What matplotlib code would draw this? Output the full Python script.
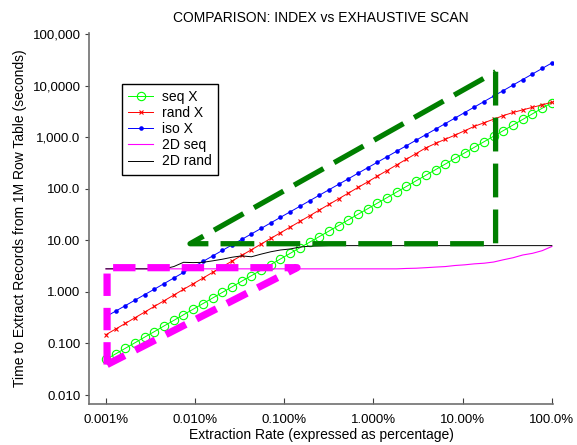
import matplotlib
matplotlib.use("Agg")
import matplotlib.pyplot as plt
from matplotlib.ticker import FixedLocator, FixedFormatter, NullLocator

plt.rcParams['font.family'] = ['Liberation Sans', 'DejaVu Sans']

# Extraction rate (percent of 1M rows)
extraction_pct = [0.001, 0.001285, 0.001651, 0.002121, 0.002723, 0.003495, 0.00449, 0.005766,
                  0.007406, 0.009512, 0.01222, 0.0157, 0.02016, 0.02589, 0.03325, 0.04271,
                  0.05486, 0.07044, 0.09048, 0.1162, 0.1493, 0.1918, 0.2462, 0.3162,
                  0.4062, 0.5218, 0.6701, 0.8607, 1.105, 1.42, 1.824, 2.342,
                  3.008, 3.864, 4.963, 6.373, 8.185, 10.51, 13.5, 17.34,
                  22.28, 28.61, 36.75, 47.2, 60.62, 77.86, 100.0]

seq_x = [0.049, 0.0628, 0.0806, 0.1035, 0.133, 0.170, 0.219, 0.280,
         0.360, 0.462, 0.592, 0.760, 0.975, 1.25, 1.61, 2.06,
         2.64, 3.39, 4.35, 5.58, 7.17, 9.19, 11.8, 15.1,
         19.4, 24.9, 32.0, 41.0, 52.6, 67.5, 86.7, 111,
         143, 183, 235, 301, 387, 496, 637, 817,
         1048, 1345, 1726, 2214, 2841, 3646, 4677]

rand_x = [0.148, 0.1905, 0.245, 0.316, 0.407, 0.524, 0.674, 0.868,
          1.12, 1.44, 1.85, 2.39, 3.07, 3.96, 5.10, 6.56,
          8.45, 10.9, 14.0, 18.0, 23.2, 29.9, 38.5, 49.6,
          63.9, 82.2, 106, 136, 176, 226, 291, 375,
          483, 621, 759, 912, 1096, 1334, 1622, 1905,
          2239, 2630, 3020, 3388, 3802, 4236, 4786]

iso_x = [0.331, 0.424, 0.542, 0.693, 0.887, 1.13, 1.45, 1.86,
         2.38, 3.04, 3.89, 4.97, 6.36, 8.14, 10.4, 13.3,
         17.0, 21.8, 27.9, 35.7, 45.6, 58.4, 74.7, 95.5,
         122, 156, 200, 256, 327, 419, 536, 685,
         877, 1121, 1434, 1835, 2347, 3003, 3841, 4914,
         6286, 8042, 10290, 13160, 16840, 21540, 27560]

seq_2d = [2.8] * 31 + [2.85, 2.88, 2.95, 3.03, 3.1, 3.25, 3.35, 3.5, 3.6, 3.8,
                       4.2, 4.6, 5.2, 5.6, 6.3, 7.6]

rand_2d = [2.8, 2.8, 2.8, 2.8, 2.8, 2.8, 2.8, 3.1, 3.75, 3.7, 3.75, 4.0, 4.3, 4.7, 5.0, 4.8,
           5.4, 6.0, 6.5, 6.8, 7.4, 7.7, 7.8] + [7.9] * 24

# Highlight outlines (data coordinates)
green_box_x = [23.4, 23.4, 0.00877, 23.4]
green_box_y = [18600, 8.6, 8.6, 18600]
magenta_box_x = [0.00103, 0.00103, 0.139, 0.00103]
magenta_box_y = [0.039, 2.95, 2.95, 0.039]

xtick_vals = [0.001, 0.01, 0.1, 1, 10, 100]
xtick_labels = ["0.001%", "0.010%", "0.100%", "1.000%", "10.00%", "100.0%"]
ytick_vals = [0.01, 0.1, 1, 10, 100, 1000, 10000, 100000]
ytick_labels = ["0.010", "0.100", "1.000", "10.00", "100.0", "1,000.0", "10,0000", "100,000"]

fig = plt.figure(figsize=(5.77, 4.45), dpi=100)
ax = fig.add_axes([89/577, (445-404)/445, 464/577, 371/445])

ax.plot(extraction_pct, seq_x, color='#00ff00', lw=0.7, marker='o', ms=6, mfc='none',
        mec='#00ff00', mew=0.8, label='seq X')
ax.plot(extraction_pct, rand_x, color='#ff0000', lw=0.7, marker='x', ms=3.0, mew=0.8,
        label='rand X')
ax.plot(extraction_pct, iso_x, color='#0000ff', lw=0.7, marker='o', ms=3.3, mew=0,
        label='iso X')
ax.plot(extraction_pct, seq_2d, color='#ff00ff', lw=0.8, label='2D seq')
ax.plot(extraction_pct, rand_2d, color='black', lw=0.7, label='2D rand')

ax.plot(green_box_x, green_box_y, color='#007f00', lw=3.8, ls=(0, (6.4, 2.3)),
        solid_joinstyle='miter', zorder=4)
ax.plot(magenta_box_x, magenta_box_y, color='#ff00ff', lw=5.2, ls=(0, (3.1, 1.65)),
        solid_joinstyle='miter', zorder=4)

ax.set_xscale('log')
ax.set_yscale('log')
ax.set_xlim(6.46e-4, 103)
ax.set_ylim(0.0067, 1.05e5)

ax.xaxis.set_major_locator(FixedLocator(xtick_vals))
ax.xaxis.set_major_formatter(FixedFormatter(xtick_labels))
ax.yaxis.set_major_locator(FixedLocator(ytick_vals))
ax.yaxis.set_major_formatter(FixedFormatter(ytick_labels))
ax.xaxis.set_minor_locator(NullLocator())
ax.yaxis.set_minor_locator(NullLocator())

for s in ['top', 'right']:
    ax.spines[s].set_visible(False)
for s in ['left', 'bottom']:
    ax.spines[s].set_color('#707070')
    ax.spines[s].set_linewidth(1.2)

ax.tick_params(axis='x', direction='in', length=4, width=0.8, color='#404040',
               labelsize=9.5, pad=7)
ax.tick_params(axis='y', direction='out', length=3, width=0.8, color='#404040',
               labelsize=9.5, pad=3)

ax.set_title('COMPARISON: INDEX vs EXHAUSTIVE SCAN', fontsize=10, pad=8)
ax.set_xlabel('Extraction Rate (expressed as percentage)', fontsize=10, labelpad=2)
ax.set_ylabel('Time to Extract Records from 1M Row Table (seconds)', fontsize=10, labelpad=4)

leg = ax.legend(loc='upper left', bbox_to_anchor=(0.071, 0.863), borderaxespad=0,
                fontsize=10, fancybox=False, framealpha=1, edgecolor='black',
                handlelength=1.8, handletextpad=0.6, labelspacing=0.15, borderpad=0.45)
leg.get_frame().set_linewidth(1.0)

fig.savefig('out.png', dpi=100)
